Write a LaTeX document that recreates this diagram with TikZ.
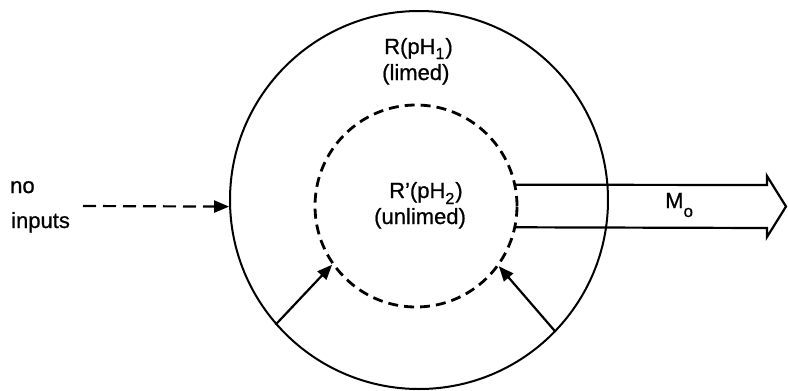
\documentclass[tikz,border=0pt]{standalone}
\usepackage{fontspec}
\setmainfont{Liberation Sans}[FakeBold=0.8]
\usetikzlibrary{arrows.meta}
\newcommand{\lowsub}[2]{\raisebox{-#1}{\fontsize{16}{16}\selectfont #2}}
\tikzset{
  lbl/.style={font=\fontsize{22}{26}\selectfont, inner sep=0pt, anchor=base west},
  ring/.style={circle, draw, line width=2pt, inner sep=0pt},
  dashring/.style={circle, draw, line width=2.8pt, inner sep=0pt, dash pattern=on 10pt off 6pt},
  feed/.style={line width=2.2pt, -{Triangle[length=15pt,width=12pt]}},
  flow/.style={line width=2.2pt, line join=miter},
}
\begin{document}
\begin{tikzpicture}[x=1pt,y=-1pt]
\useasboundingbox (0,0) rectangle (788,391);
\node[ring, minimum size=378pt] (outer) at (419,200) {};
\node[dashring, minimum size=202pt] (inner) at (416,206) {};

% labels
\node[lbl] (no) at (10,193) {no};
\node[lbl] (inputs) at (11,228) {inputs};
\node[lbl] (R1) at (384,54) {R(pH\lowsub{5pt}{1}\kern1pt)};
\node[lbl] (limed) at (382,80) {(limed)};
\node[lbl] (R2) at (389,198) {R’(pH\lowsub{6pt}{2}\kern1pt)};
\node[lbl] (unlimed) at (374,224) {(unlimed)};
\node[lbl] (Mo) at (665,208) {M\raisebox{-9pt}{\fontsize{17}{17}\selectfont o}};

% no inputs arrow
\coordinate (instart) at (83,206);
\draw[feed, dash pattern=on 13pt off 7pt] (instart) -- (outer.182);

% internal arrows
\draw[feed] (outer.221) -- (inner.215);
\draw[feed] (outer.316.7) -- (inner.324.5);

% output arrow
\coordinate (h1) at (767,185);
\coordinate (h2) at (767,176);
\coordinate (tip) at (786,206.5);
\coordinate (h3) at (767,237);
\coordinate (h4) at (767,228);
\draw[flow] (inner.12) -- (h1) -- (h2) -- (tip) -- (h3) -- (h4) -- (inner.-12);
\end{tikzpicture}
\end{document}
